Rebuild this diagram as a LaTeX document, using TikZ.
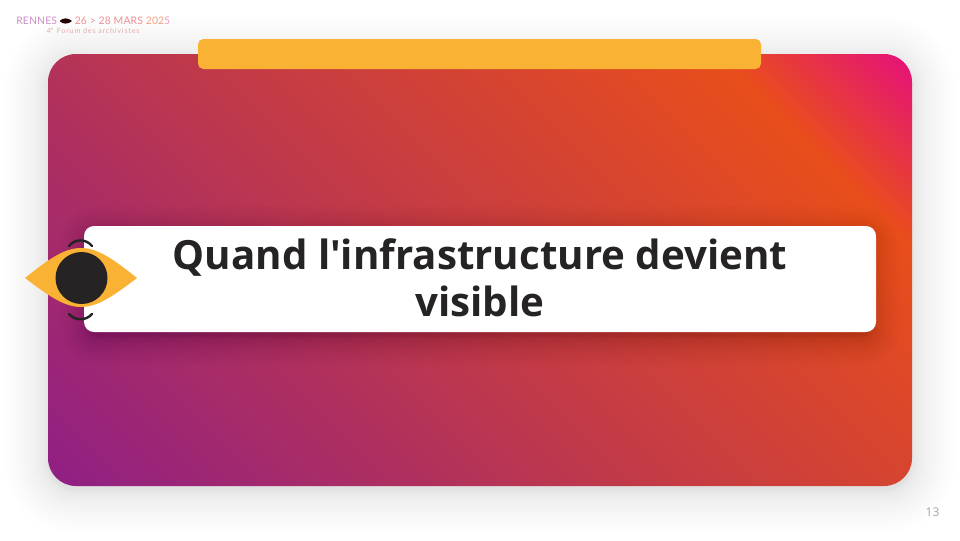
\documentclass[tikz,border=0pt]{standalone}
\usepackage{fontspec}
\setmainfont{Open Sans}
\newfontfamily\titlefont{Open Sans}[Ligatures=ResetAll]
\newfontfamily\logofont{Lato}[LetterSpace=1.5]
\newfontfamily\logosubfont{Lato}[LetterSpace=11]
\definecolor{cardA}{HTML}{8F1F85}
\definecolor{cardB}{HTML}{C23A47}
\definecolor{cardC}{HTML}{E84E1B}
\definecolor{cardD}{HTML}{E5107C}
\definecolor{sun}{HTML}{F9B233}
\definecolor{ink}{HTML}{262324}
\definecolor{logosub}{HTML}{E6AAAA}
\pgfdeclarehorizontalshading{cardgrad}{100bp}{
  color(0bp)=(cardA); color(46bp)=(cardB); color(85bp)=(cardC); color(100bp)=(cardD)}
\tikzset{x=0.75pt,y=-0.75pt,
  titletext/.style={font=\titlefont\fontsize{30.2}{35.5}\selectfont\bfseries,text=ink,align=center,inner sep=0pt},
  lidarc/.style={draw=ink,line width=1.8pt,line cap=round},
  logo/.style={font=\logofont\fontsize{7.8}{8}\selectfont,inner sep=0pt,anchor=base west}}
% x0 y0 x1 y1 radius max-spread layers opacity
\newcommand{\softshadow}[8]{%
  \foreach \k in {1,...,#7}{
    \pgfmathsetmacro{\sp}{#6*((#7-\k+1)/#7)^2}
    \pgfmathsetmacro{\rad}{(#5+\sp)*0.75}
    \fill[black,opacity=#8,rounded corners=\rad pt]
      (#1-\sp,#2-\sp) rectangle (#3+\sp,#4+\sp);
  }}
\begin{document}
\begin{tikzpicture}
\useasboundingbox (0,0) rectangle (960,540);
\fill[white] (0,0) rectangle (960,540);
% card shadow
\softshadow{48}{60}{912}{490}{28}{44}{30}{0.0030}
% card
\begin{scope}
  \clip[rounded corners=21pt] (48,54) rectangle (912,486);
  \begin{scope}[shift={(480,270)},rotate=45,scale=6.845]
    \pgflowlevelsynccm
    \pgfuseshading{cardgrad}
  \end{scope}
\end{scope}
% tab
\fill[sun,rounded corners=4pt] (198,39) rectangle (761,69);
% white box shadow
\begin{scope}
  \clip[rounded corners=21pt] (48,54) rectangle (912,486);
  \softshadow{90}{236}{870}{336}{8}{30}{20}{0.009}
\end{scope}
\node[fill=white,rounded corners=7.5pt,minimum width=594pt,minimum height=79.5pt,inner sep=0pt] (box) at (480,279) {};
\node[titletext] (title) at (480,278) {Quand l'infrastructure devient\\visible};
% eye
\fill[sun] (25,278) .. controls (50,258) and (65,248) .. (81,248)
  .. controls (97,248) and (112,258) .. (137,278)
  .. controls (112,297) and (97,307) .. (81,307)
  .. controls (65,307) and (50,297) .. (25,278) -- cycle;
\fill[ink] (81.5,278) circle[radius=26];
\draw[lidarc] (69,246) .. controls (75,238.5) and (86,238.5) .. (92,246);
\draw[lidarc] (69,314) .. controls (75,321) and (86,321) .. (92,314);
% logo
\node[logo] (l1) at (16,24.5) {\textcolor[HTML]{CC8FCB}{RENNES}};
\fill[black!85!red] (59.5,21) .. controls (63,17.5) and (68,17.5) .. (72,21) .. controls (68,24.5) and (63,24.5) .. (59.5,21) -- cycle;
\node[logo] (l2) at (74.5,24.5) {\textcolor[HTML]{EE8F93}{26 > 28 MARS }\textcolor[HTML]{F2A283}{202}\textcolor[HTML]{F29AC0}{5}};
\node[font=\logosubfont\fontsize{5.4}{6}\selectfont,text=logosub,inner sep=0pt,anchor=base west] (l3) at (46.5,33) {4\textsuperscript{e} Forum des archivistes};
% page number
\node[font=\fontsize{9}{10}\selectfont,text=black!35,inner sep=0pt] (page) at (932.5,512) {13};
\end{tikzpicture}
\end{document}
